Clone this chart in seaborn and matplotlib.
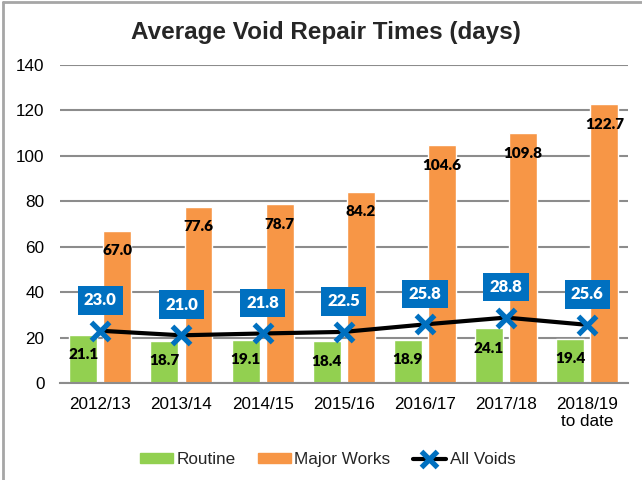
import numpy as np
import pandas as pd
import matplotlib
matplotlib.use("Agg")
import matplotlib.pyplot as plt
from matplotlib.lines import Line2D
import seaborn as sns

# data
years = ["2012/13", "2013/14", "2014/15", "2015/16", "2016/17", "2017/18", "2018/19\nto date"]
routine = [21.1, 18.7, 19.1, 18.4, 18.9, 24.1, 19.4]
major_works = [67.0, 77.6, 78.7, 84.2, 104.6, 109.8, 122.7]
all_voids = [23.0, 21.0, 21.8, 22.5, 25.8, 28.8, 25.6]

GREEN = "#92D050"
ORANGE = "#F79646"
BLUE = "#0070C0"
GRID = "#8C8C8C"

sns.set_theme(style="white")
plt.rcParams["font.family"] = ["Liberation Sans", "DejaVu Sans"]

df = pd.DataFrame({
    "year": years * 2,
    "days": routine + major_works,
    "type": ["Routine"] * len(years) + ["Major Works"] * len(years),
})

fig = plt.figure(figsize=(6.42, 4.80), dpi=100)
ax = fig.add_axes([0.093, 0.202, 0.885, 0.663])

sns.barplot(data=df, x="year", y="days", hue="type",
            palette={"Routine": GREEN, "Major Works": ORANGE},
            width=0.84, gap=0.18, saturation=1, ax=ax, legend=False)

for cont in ax.containers:
    ax.bar_label(cont, fmt="%.1f", padding=-19, fontsize=11,
                 fontweight="heavy", family="Lato", color="black")

xs = np.arange(len(years))
sns.lineplot(x=xs, y=all_voids, color="black", linewidth=3, ax=ax, zorder=4)
sns.scatterplot(x=xs, y=all_voids, marker="x", s=170, linewidth=3.8,
                color=BLUE, ax=ax, zorder=5)

for x, v in zip(xs, all_voids):
    ax.annotate(f"{v:.1f}", (x, v), xytext=(0, 22), textcoords="offset points",
                ha="center", va="center", fontsize=12, fontweight="heavy",
                family="Lato", color="white", zorder=6,
                bbox=dict(boxstyle="square,pad=0.38", fc=BLUE, ec="none"))

ax.set_ylim(0, 140)
ax.set_yticks(range(0, 141, 20))
ax.set_xlim(-0.5, len(years) - 0.5)
ax.yaxis.grid(True, color=GRID, linewidth=1.5)
ax.set_axisbelow(True)
for s in ["left", "right", "top"]:
    ax.spines[s].set_visible(False)
ax.spines["bottom"].set_color(GRID)
ax.spines["bottom"].set_linewidth(1.5)
ax.tick_params(axis="both", length=0, labelsize=12.3, colors="black")
ax.tick_params(axis="y", pad=11)
ax.tick_params(axis="x", pad=10)
ax.set_xlabel("")
ax.set_ylabel("")

fig.suptitle("Average Void Repair Times (days)", x=0.508, y=0.957,
             fontsize=17.5, fontweight="bold")

handles = [
    plt.Rectangle((0, 0), 1, 1, color=GREEN),
    plt.Rectangle((0, 0), 1, 1, color=ORANGE),
    Line2D([0], [0], color="black", linewidth=3, marker="x",
           markersize=11, markeredgewidth=3.8, markeredgecolor=BLUE),
]
fig.legend(handles, ["Routine", "Major Works", "All Voids"], loc="center",
           bbox_to_anchor=(0.51, 0.042), ncol=3, frameon=False, fontsize=12.3,
           handlelength=1.95, handleheight=0.5, columnspacing=1.3, handletextpad=0.2)

# outer chart frame (left and top edges visible)
fig.add_artist(Line2D([0.004, 0.004], [0, 0.996], color="#A6A6A6", linewidth=2,
                      transform=fig.transFigure))
fig.add_artist(Line2D([0.004, 1], [0.996, 0.996], color="#A6A6A6", linewidth=2,
                      transform=fig.transFigure))

fig.savefig("out.png", dpi=100)
